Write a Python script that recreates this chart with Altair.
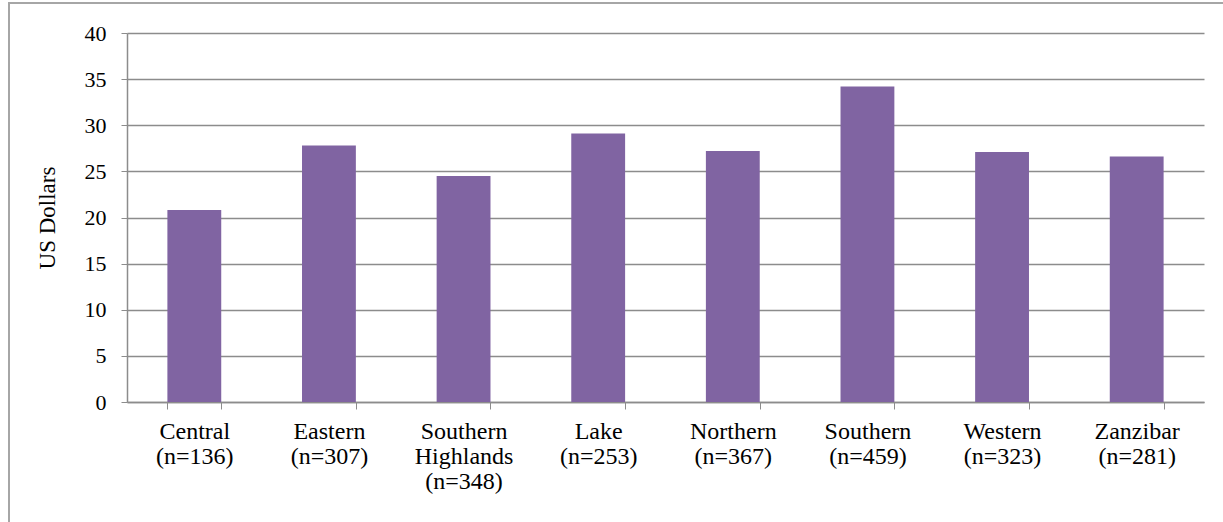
import altair as alt
import pandas as pd

regions = ["Central\n(n=136)", "Eastern\n(n=307)", "Southern\nHighlands\n(n=348)",
           "Lake\n(n=253)", "Northern\n(n=367)", "Southern\n(n=459)",
           "Western\n(n=323)", "Zanzibar\n(n=281)"]
dollars = [20.8, 27.8, 24.5, 29.1, 27.2, 34.2, 27.1, 26.6]

df = pd.DataFrame({"region": regions, "usd": dollars})

FONT = "Liberation Serif"
GRID = "#8c8c8c"

bars = alt.Chart(df).mark_bar(color="#8064A2").encode(
    x=alt.X("region:N", sort=regions,
            scale=alt.Scale(paddingInner=0.6, paddingOuter=0.3),
            axis=alt.Axis(title=None, labelAngle=0, tickBand="extent",
                          labelExpr="split(datum.label, '\\n')",
                          labelFont=FONT, labelFontSize=24, labelColor="#000",
                          labelLineHeight=25, labelPadding=10, labelBaseline="top",
                          domainColor=GRID, tickColor=GRID, tickSize=7,
                          domainWidth=1.5, grid=False)),
    y=alt.Y("usd:Q", scale=alt.Scale(domain=[0, 40], nice=False),
            axis=alt.Axis(title="US Dollars", values=list(range(0, 41, 5)),
                          titleFont=FONT, titleFontSize=23, titleFontWeight="normal",
                          titleColor="#000", titlePadding=25,
                          labelFont=FONT, labelFontSize=22, labelColor="#000",
                          labelPadding=15, domainColor=GRID, domainWidth=1.5,
                          tickColor=GRID, tickSize=6, gridColor=GRID,
                          gridWidth=1.5, gridOpacity=1)),
)

frame = alt.Chart(df).mark_rect(fill=None, stroke="#a6a6a6", strokeWidth=1.5).encode(
    x=alt.value(-118), x2=alt.value(1400), y=alt.value(-30), y2=alt.value(700)
)

chart = alt.layer(frame, bars).properties(
    width=1077, height=369,
    autosize=alt.AutoSizeParams(type="none"),
    padding={"left": 127, "top": 33, "right": 19, "bottom": 120},
).configure_view(stroke=None, clip=False)

chart.save("out.html", embed_options={"renderer": "svg", "actions": False})
